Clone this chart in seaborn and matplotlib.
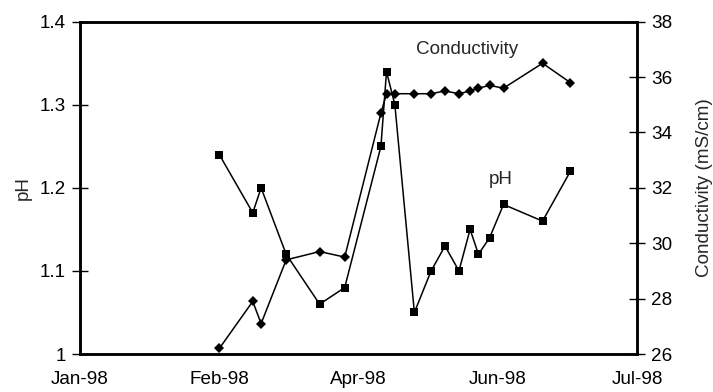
import matplotlib
matplotlib.use("Agg")
import matplotlib.pyplot as plt
import matplotlib.dates as mdates
import pandas as pd
import seaborn as sns

# Sampling dates and measurements
dates = ["1998-02-24", "1998-03-08", "1998-03-11", "1998-03-20", "1998-04-01",
         "1998-04-10", "1998-04-23", "1998-04-25", "1998-04-28", "1998-05-05",
         "1998-05-11", "1998-05-16", "1998-05-21", "1998-05-25", "1998-05-28",
         "1998-06-01", "1998-06-06", "1998-06-20", "1998-06-30"]
ph = [1.24, 1.17, 1.20, 1.12, 1.06, 1.08, 1.25, 1.34, 1.30, 1.05,
      1.10, 1.13, 1.10, 1.15, 1.12, 1.14, 1.18, 1.16, 1.22]
conductivity = [26.2, 27.9, 27.1, 29.4, 29.7, 29.5, 34.7, 35.4, 35.4, 35.4,
                35.4, 35.5, 35.4, 35.5, 35.6, 35.7, 35.6, 36.5, 35.8]

# Axis ticks (50-day spacing)
tick_dates = ["1998-01-05", "1998-02-24", "1998-04-15", "1998-06-04", "1998-07-24"]
ph_ticks = [1.0, 1.1, 1.2, 1.3, 1.4]
ph_tick_labels = ["1", "1.1", "1.2", "1.3", "1.4"]
cond_ticks = [26, 28, 30, 32, 34, 36, 38]

df = pd.DataFrame({"date": pd.to_datetime(dates), "pH": ph, "cond": conductivity})
ticks = pd.to_datetime(tick_dates)

sns.set_style("white")
plt.rcParams["font.family"] = ["Liberation Sans", "DejaVu Sans"]
fs = 13.6

fig = plt.figure(figsize=(7.13, 3.92), dpi=100)
ax = fig.add_axes([0.1122, 0.0969, 0.7816, 0.8477])
ax2 = ax.twinx()

sns.lineplot(data=df, x="date", y="pH", ax=ax, color="black", linewidth=1.1,
             marker="s", markersize=6, markeredgewidth=0, markerfacecolor="black")
sns.lineplot(data=df, x="date", y="cond", ax=ax2, color="black", linewidth=1.1,
             marker="D", markersize=4.6, markeredgewidth=0, markerfacecolor="black")

ax.set_xlim(ticks[0], ticks[-1])
ax.set_ylim(1.0, 1.4)
ax2.set_ylim(26, 38)
ax.set_xticks(ticks)
ax.xaxis.set_major_formatter(mdates.DateFormatter("%b-%y"))
ax.set_yticks(ph_ticks)
ax.set_yticklabels(ph_tick_labels)
ax2.set_yticks(cond_ticks)

for a in (ax, ax2):
    for s in a.spines.values():
        s.set_color("black")
        s.set_linewidth(1.8)
    a.grid(False)
    a.tick_params(direction="inout", length=12, width=1, colors="black",
                  labelsize=fs, labelcolor="black")
ax.tick_params(axis="y", pad=4)
ax.tick_params(axis="x", pad=6)
ax2.tick_params(axis="y", pad=4)

ax.set_xlabel("")
ax.set_ylabel("pH", fontsize=fs, labelpad=6)
ax2.set_ylabel("Conductivity (mS/cm)", fontsize=fs, labelpad=17)

ax.text(0.694, 0.915, "Conductivity", transform=ax.transAxes, fontsize=fs,
        ha="center", va="center")
ax.text(0.7545, 0.524, "pH", transform=ax.transAxes, fontsize=fs,
        ha="center", va="center")

fig.savefig("out.png", dpi=100)
